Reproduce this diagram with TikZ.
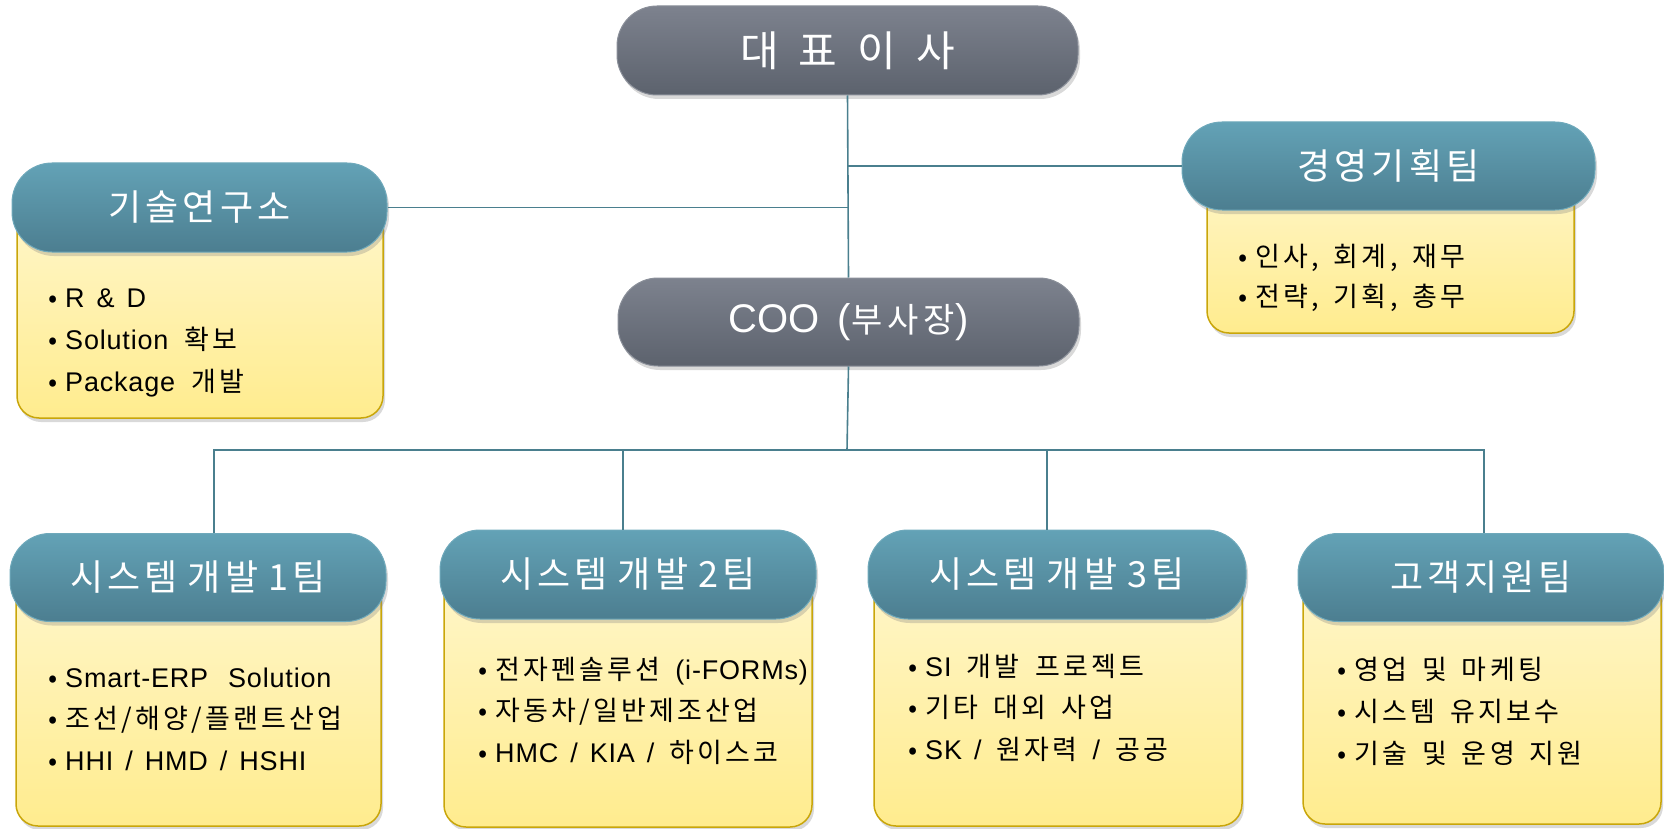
\documentclass[tikz,border=0pt]{standalone}
\usepackage{fontspec}
\setmainfont{Noto Sans CJK KR}
\newfontfamily\kbody[LetterSpace=12]{Noto Sans CJK KR}
\newfontfamily\ebody[LetterSpace=3]{Liberation Sans}
\newfontfamily\khdr[LetterSpace=11]{Noto Sans CJK KR}
\newfontfamily\kboss{Noto Sans CJK KR}
\newfontfamily\kcoo[LetterSpace=15]{Noto Sans CJK KR}
\newfontfamily\ecoo{Liberation Sans}
\usetikzlibrary{shadows}
\definecolor{tealtop}{HTML}{63A2B6}
\definecolor{tealbot}{HTML}{4C7E90}
\definecolor{tealedge}{HTML}{6FA9BB}
\definecolor{graytop}{HTML}{7D828E}
\definecolor{graybot}{HTML}{5C626D}
\definecolor{grayedge}{HTML}{8A8F99}
\definecolor{ytop}{HTML}{FFF6CA}
\definecolor{ybot}{HTML}{FFEC8E}
\definecolor{yedge}{HTML}{C9A60A}
\definecolor{linecol}{HTML}{4A7F8E}
\newcommand{\bul}{\makebox[17pt][l]{•}}
\newcommand{\lat}[1]{{\ebody\fontsize{27}{30}\selectfont\spaceskip 12pt\relax #1}}
\newcommand{\cooL}[1]{{\ecoo\fontsize{40}{46}\selectfont #1}}
\newcommand{\cooK}[1]{{\kcoo\fontsize{34}{40}\selectfont #1}}
\newcommand{\hdrfont}{\khdr\fontsize{36}{42}\selectfont\spaceskip 10pt\relax}
\newcommand{\bossfont}{\kboss\fontsize{42}{48}\selectfont\spaceskip 20pt\relax}
\newcommand{\coofont}{\kboss\fontsize{42}{48}\selectfont\spaceskip 18pt\relax}
\newcommand{\itemfont}{\kbody\fontsize{27}{30}\selectfont\spaceskip 15pt\relax}
\begin{document}
\begin{tikzpicture}[x=1pt,y=-1pt,
  shad/.style={drop shadow={opacity=0.3, shadow xshift=2pt, shadow yshift=-4pt}},
  hdr/.style={shad, rounded corners=40pt, top color=tealtop, bottom color=tealbot, draw=tealedge, line width=1pt, text=white, font=\hdrfont, inner sep=0pt},
  boss/.style={shad, rounded corners=40pt, top color=graytop, bottom color=graybot, draw=grayedge, line width=1pt, text=white, font=\bossfont, inner sep=0pt},
  bodybox/.style={shad, rounded corners=22pt, top color=ytop, bottom color=ybot, draw=yedge, line width=1.5pt, inner sep=0pt},
  item/.style={anchor=base west, inner sep=0pt, font=\itemfont, text=black},
  conn/.style={draw=linecol, line width=1.6pt}
]
\useasboundingbox (0,0) rectangle (1664,829);

\coordinate (bus) at (847,450);

% bodies
\node[bodybox, minimum width=366pt, minimum height=211pt] (labb) at (200,312.5) {};
\node[bodybox, minimum width=367pt, minimum height=167pt] (planb) at (1390.5,249.5) {};
\node[bodybox, minimum width=365pt, minimum height=249pt] (t1b) at (198.5,701.5) {};
\node[bodybox, minimum width=368pt, minimum height=253pt] (t2b) at (628,700.5) {};
\node[bodybox, minimum width=368pt, minimum height=252pt] (t3b) at (1058,700) {};
\node[bodybox, minimum width=358pt, minimum height=247pt] (t4b) at (1482,700.5) {};

% headers
\node[boss, minimum width=461pt, minimum height=89pt] (ceo) at (847.5,50.5) {대 표 이 사};
\node[boss, minimum width=461pt, minimum height=88pt, font=\coofont] (coo) at (848.5,322) {\cooL{COO} \cooL{(}\cooK{부사장}\cooL{)}};
\node[hdr, minimum width=375pt, minimum height=89pt] (lab) at (199.5,207.5) {기술연구소};
\node[hdr, minimum width=413pt, minimum height=88pt] (plan) at (1388.5,166) {경영기획팀};
\node[hdr, minimum width=376pt, minimum height=88pt] (t1) at (198,577.5) {시스템 개발 1팀};
\node[hdr, minimum width=376pt, minimum height=89pt] (t2) at (628,574.5) {시스템 개발 2팀};
\node[hdr, minimum width=378pt, minimum height=89pt] (t3) at (1057,574.5) {시스템 개발 3팀};
\node[hdr, minimum width=366pt, minimum height=88pt] (t4) at (1481,577.5) {고객지원팀};

% connectors
\draw[conn] (ceo.south) -- (coo.north);
\draw[conn] (lab.east) -- (lab.east -| ceo.south);
\draw[conn] (plan.west) -- (plan.west -| ceo.south);
\draw[conn] (coo.south) -- (bus);
\draw[conn] ([xshift=16pt]t1.north) |- (bus) -| ([xshift=3pt]t4.north);
\draw[conn] ([xshift=-5pt]t2.north) -- ([xshift=-5pt]t2.north |- bus);
\draw[conn] ([xshift=-10pt]t3.north) -- ([xshift=-10pt]t3.north |- bus);

% items
\node[item] (l1) at (48,307) {\bul\lat{R \& D}};
\node[item] (l2) at (48,349) {\bul\lat{Solution}\hspace{16pt}확보};
\node[item] (l3) at (48,391) {\bul\lat{Package}\hspace{16pt}개발};

\node[item] (p1) at (1238,266) {\bul 인사, 회계, 재무};
\node[item] (p2) at (1238,306) {\bul 전략, 기획, 총무};

\node[item] (a1) at (48,687) {\bul\lat{Smart-ERP\hspace{20pt}Solution}};
\node[item] (a2) at (48,728) {\bul 조선/해양/플랜트산업};
\node[item] (a3) at (48,770) {\bul\lat{HHI / HMD / HSHI}};

\node[item] (b1) at (478,679) {\bul 전자펜솔루션 \lat{(i-FORMs)}};
\node[item] (b2) at (478,720) {\bul 자동차/일반제조산업};
\node[item] (b3) at (478,762) {\bul\lat{HMC / KIA /} 하이스코};

\node[item] (c1) at (908,676) {\bul\lat{SI} 개발\hspace{16pt}프로젝트};
\node[item] (c2) at (908,717) {\bul 기타 대외 사업};
\node[item] (c3) at (908,759) {\bul\lat{SK /} 원자력 \lat{/} 공공};

\node[item] (d1) at (1337,679) {\bul 영업 및 마케팅};
\node[item] (d2) at (1337,721) {\bul 시스템 유지보수};
\node[item] (d3) at (1337,763) {\bul 기술 및 운영 지원};
\end{tikzpicture}
\end{document}
